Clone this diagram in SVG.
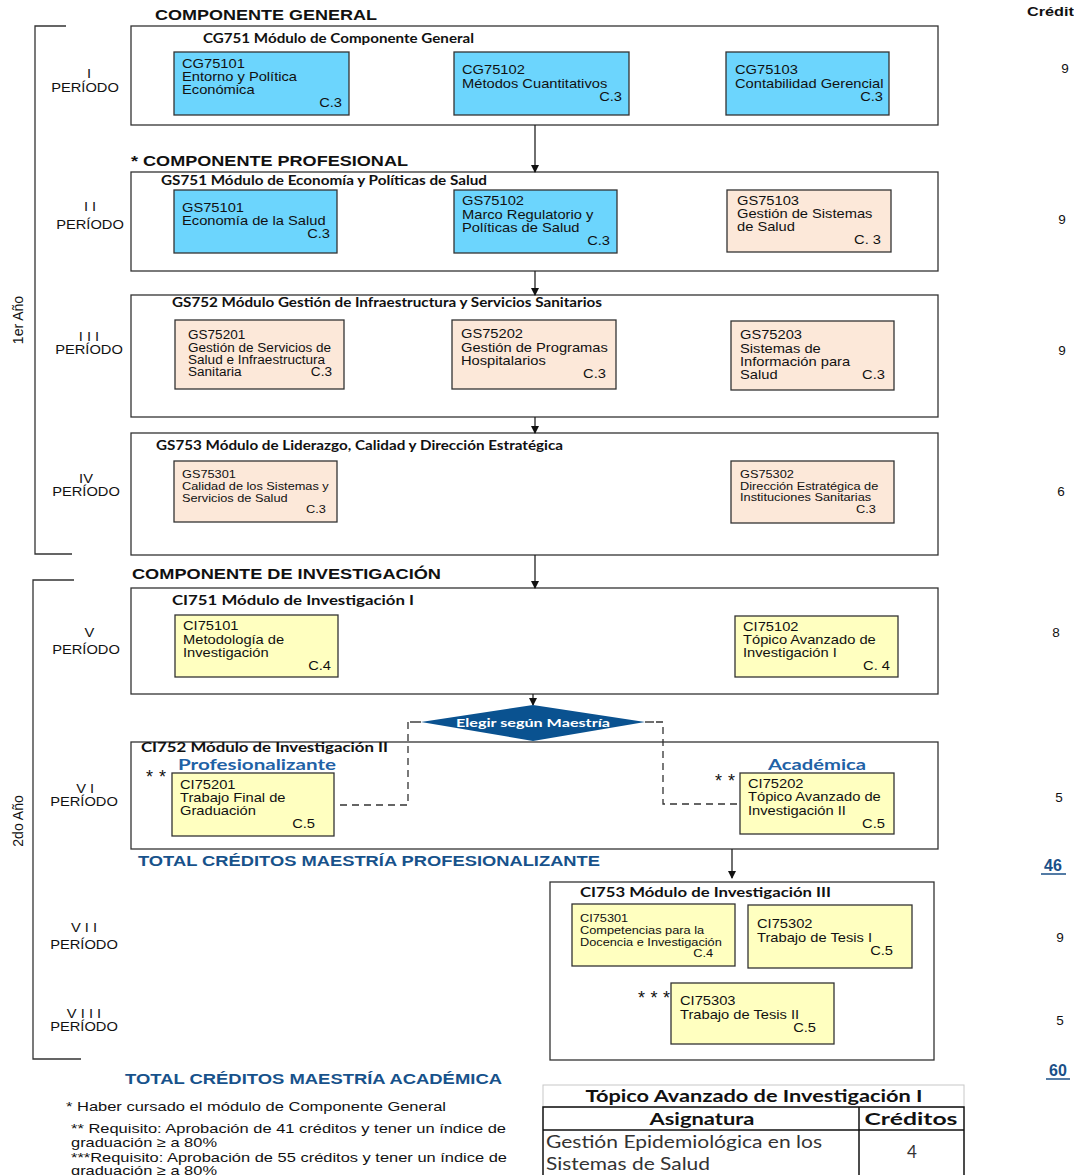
<svg xmlns="http://www.w3.org/2000/svg" width="1074" height="1175" viewBox="0 0 1074 1175">
<style>
.bg{fill:#fff}
.mod{fill:#fff;stroke:#333;stroke-width:1.3}
.cy{fill:#6CD5FD;stroke:#333;stroke-width:1.3}
.pe{fill:#FCE8D9;stroke:#333;stroke-width:1.3}
.ye{fill:#FFFFC0;stroke:#333;stroke-width:1.3}
.t text{font-family:"Liberation Sans",Arial,sans-serif;font-size:13px;fill:#111}
.t12 text{font-size:12px}
.t11 text{font-size:11px}
.e{text-anchor:end}
.m{text-anchor:middle}
.hd{font-family:"Liberation Sans",Arial,sans-serif;font-weight:bold;font-size:15px;fill:#111}
.ti{font-family:Lato,"Noto Sans",sans-serif;font-weight:bold;font-size:13px;fill:#111}
.tot{font-family:"Liberation Sans",Arial,sans-serif;font-weight:bold;font-size:14px;fill:#17528B}
.bl{font-family:Lato,"Noto Sans",sans-serif;font-weight:bold;font-size:15.5px;fill:#1F62A6}
.cr{font-family:"Liberation Sans",Arial,sans-serif;font-size:13.5px;fill:#111;text-anchor:middle}
.crb{font-family:"Liberation Sans",Arial,sans-serif;font-size:16px;font-weight:bold;fill:#1A4F87;text-anchor:middle}
.fn{font-family:"Liberation Sans",Arial,sans-serif;font-size:13.5px;fill:#111}
.st{font-family:"Liberation Sans",Arial,sans-serif;font-size:18px;fill:#111}
.tb{font-family:Lato,"Noto Sans",sans-serif;font-size:17px;fill:#333}
.tbb{font-family:Lato,"Noto Sans",sans-serif;font-size:17px;font-weight:bold;fill:#111}
.ln{stroke:#222;stroke-width:1.3;fill:none}
.dash{stroke:#333;stroke-width:1.3;fill:none;stroke-dasharray:7 5}
.br{stroke:#333;stroke-width:1.3;fill:none}
</style>
<defs>
<marker id="arr" markerWidth="8" markerHeight="8" refX="7" refY="4" orient="auto" markerUnits="userSpaceOnUse">
<path d="M0,0 L8,4 L0,8 Z" fill="#111"/>
</marker>
</defs>
<rect class="bg" x="0" y="0" width="1074" height="1175"/>

<!-- headings -->
<text class="hd" x="155" y="20" textLength="222" lengthAdjust="spacingAndGlyphs">COMPONENTE GENERAL</text>
<text class="hd" x="131" y="166" textLength="277" lengthAdjust="spacingAndGlyphs">* COMPONENTE PROFESIONAL</text>
<text class="hd" x="132" y="579" textLength="309" lengthAdjust="spacingAndGlyphs">COMPONENTE DE INVESTIGACIÓN</text>
<text class="hd" x="1027" y="16" style="font-size:12.5px" textLength="47" lengthAdjust="spacingAndGlyphs">Crédit</text>

<!-- year brackets -->
<g id="year1">
<path class="br" d="M66,26 H35 V554 H72"/>
<text transform="translate(23 320) rotate(-90)" style="font-family:'Liberation Sans',Arial,sans-serif;font-size:14px;fill:#111;text-anchor:middle">1er  Año</text>
</g>
<g id="year2">
<path class="br" d="M74,580 H33 V1059 H81"/>
<text transform="translate(23 821) rotate(-90)" style="font-family:'Liberation Sans',Arial,sans-serif;font-size:14px;fill:#111;text-anchor:middle">2do  Año</text>
</g>

<!-- period labels -->
<g id="periods" class="t">
<g transform="translate(89 0) scale(1.13 1)"><text class="m" x="0" y="78">I</text></g>
<g transform="translate(85 0) scale(1.13 1)"><text class="m" x="0" y="92">PERÍODO</text></g>
<g transform="translate(90 0) scale(1.13 1)"><text class="m" x="0" y="211">I I</text><text class="m" x="0" y="229">PERÍODO</text></g>
<g transform="translate(89 0) scale(1.13 1)"><text class="m" x="0" y="341">I I I</text><text class="m" x="0" y="354">PERÍODO</text></g>
<g transform="translate(86 0) scale(1.13 1)"><text class="m" x="0" y="483">IV</text><text class="m" x="0" y="496">PERÍODO</text></g>
<g transform="translate(86 0) scale(1.13 1)"><text class="m" x="3" y="637">V</text><text class="m" x="0" y="654">PERÍODO</text></g>
<g transform="translate(84 0) scale(1.13 1)"><text class="m" x="1" y="793">V I</text><text class="m" x="0" y="806">PERÍODO</text></g>
<g transform="translate(84 0) scale(1.13 1)"><text class="m" x="0" y="932">V I I</text><text class="m" x="0" y="949">PERÍODO</text></g>
<g transform="translate(84 0) scale(1.13 1)"><text class="m" x="0" y="1018">V I I I</text><text class="m" x="0" y="1031">PERÍODO</text></g>
</g>

<!-- credits -->
<g id="credits">
<text class="cr" x="1065" y="73">9</text>
<text class="cr" x="1062" y="224">9</text>
<text class="cr" x="1062" y="355">9</text>
<text class="cr" x="1061" y="496">6</text>
<text class="cr" x="1056" y="637">8</text>
<text class="cr" x="1059" y="802">5</text>
<text class="crb" x="1053" y="871">46</text>
<line x1="1041" y1="874" x2="1066" y2="874" stroke="#1A4F87" stroke-width="1.5"/>
<text class="cr" x="1060" y="942">9</text>
<text class="cr" x="1060" y="1025">5</text>
<text class="crb" x="1058" y="1076">60</text>
<line x1="1046" y1="1079" x2="1070" y2="1079" stroke="#1A4F87" stroke-width="1.5"/>
</g>

<!-- CG751 -->
<g id="CG751">
<rect class="mod" x="131" y="26" width="807" height="99"/>
<text class="ti" x="203" y="43" textLength="271" lengthAdjust="spacingAndGlyphs">CG751 Módulo de Componente General</text>
</g>
<g id="CG75101">
<rect class="cy" x="174" y="52" width="175" height="63"/>
<g class="t" transform="translate(182 0) scale(1.13 1)"><text x="0" y="68">CG75101</text><text x="0" y="81">Entorno y Política</text><text x="0" y="94">Económica</text><text class="e" x="141.6" y="107">C.3</text></g>
</g>
<g id="CG75102">
<rect class="cy" x="454" y="52" width="175" height="63"/>
<g class="t" transform="translate(462 0) scale(1.13 1)"><text x="0" y="74">CG75102</text><text x="0" y="88">Métodos Cuantitativos</text><text class="e" x="141.6" y="101">C.3</text></g>
</g>
<g id="CG75103">
<rect class="cy" x="726" y="52" width="163" height="63"/>
<g class="t" transform="translate(735 0) scale(1.13 1)"><text x="0" y="74">CG75103</text><text x="0" y="88">Contabilidad Gerencial</text><text class="e" x="131" y="101">C.3</text></g>
</g>

<!-- GS751 -->
<g id="GS751">
<rect class="mod" x="131" y="172" width="807" height="99"/>
<text class="ti" x="161" y="185" textLength="326" lengthAdjust="spacingAndGlyphs">GS751 Módulo de Economía y Políticas de Salud</text>
</g>
<g id="GS75101">
<rect class="cy" x="174" y="190" width="163" height="63"/>
<g class="t" transform="translate(182 0) scale(1.13 1)"><text x="0" y="212">GS75101</text><text x="0" y="225">Economía de la Salud</text><text class="e" x="131" y="238">C.3</text></g>
</g>
<g id="GS75102">
<rect class="cy" x="454" y="190" width="163" height="63"/>
<g class="t" transform="translate(462 0) scale(1.13 1)"><text x="0" y="205">GS75102</text><text x="0" y="219">Marco Regulatorio y</text><text x="0" y="232">Políticas de Salud</text><text class="e" x="131" y="245">C.3</text></g>
</g>
<g id="GS75103">
<rect class="pe" x="727" y="190" width="164" height="62"/>
<g class="t" transform="translate(737 0) scale(1.13 1)"><text x="0" y="205">GS75103</text><text x="0" y="218">Gestión de Sistemas</text><text x="0" y="231">de Salud</text><text class="e" x="127.4" y="244">C. 3</text></g>
</g>

<!-- GS752 -->
<g id="GS752">
<rect class="mod" x="131" y="295" width="807" height="122"/>
<text class="ti" x="172" y="307" textLength="430" lengthAdjust="spacingAndGlyphs">GS752 Módulo Gestión de Infraestructura y Servicios Sanitarios</text>
</g>
<g id="GS75201">
<rect class="pe" x="175" y="320" width="169" height="69"/>
<g class="t t12" transform="translate(188 0) scale(1.13 1)"><text x="0" y="339">GS75201</text><text x="0" y="352">Gestión de Servicios de</text><text x="0" y="364">Salud e Infraestructura</text><text x="0" y="376">Sanitaria</text><text class="e" x="127.4" y="376">C.3</text></g>
</g>
<g id="GS75202">
<rect class="pe" x="452" y="320" width="164" height="69"/>
<g class="t" transform="translate(461 0) scale(1.13 1)"><text x="0" y="338">GS75202</text><text x="0" y="352">Gestión de Programas</text><text x="0" y="365">Hospitalarios</text><text class="e" x="128.3" y="378">C.3</text></g>
</g>
<g id="GS75203">
<rect class="pe" x="731" y="321" width="163" height="69"/>
<g class="t" transform="translate(740 0) scale(1.13 1)"><text x="0" y="339">GS75203</text><text x="0" y="353">Sistemas de</text><text x="0" y="366">Información para</text><text x="0" y="379">Salud</text><text class="e" x="128.3" y="379">C.3</text></g>
</g>

<!-- GS753 -->
<g id="GS753">
<rect class="mod" x="131" y="433" width="807" height="122"/>
<text class="ti" x="156" y="450" textLength="407" lengthAdjust="spacingAndGlyphs">GS753 Módulo de Liderazgo, Calidad y Dirección Estratégica</text>
</g>
<g id="GS75301">
<rect class="pe" x="174" y="461" width="163" height="61"/>
<g class="t t11" transform="translate(182 0) scale(1.16 1)"><text x="0" y="478">GS75301</text><text x="0" y="490">Calidad de los Sistemas y</text><text x="0" y="502">Servicios de Salud</text><text class="e" x="124.1" y="513">C.3</text></g>
</g>
<g id="GS75302">
<rect class="pe" x="731" y="461" width="163" height="62"/>
<g class="t t11" transform="translate(740 0) scale(1.16 1)"><text x="0" y="478">GS75302</text><text x="0" y="490">Dirección Estratégica de</text><text x="0" y="501">Instituciones Sanitarias</text><text class="e" x="117.2" y="513">C.3</text></g>
</g>

<!-- CI751 -->
<g id="CI751">
<rect class="mod" x="131" y="588" width="807" height="106"/>
<text class="ti" x="172" y="605" textLength="242" lengthAdjust="spacingAndGlyphs">CI751 Módulo de Investigación I</text>
</g>
<g id="CI75101">
<rect class="ye" x="175" y="615" width="163" height="62"/>
<g class="t" transform="translate(183 0) scale(1.13 1)"><text x="0" y="630">CI75101</text><text x="0" y="644">Metodología de</text><text x="0" y="657">Investigación</text><text class="e" x="131" y="670">C.4</text></g>
</g>
<g id="CI75102">
<rect class="ye" x="735" y="616" width="163" height="61"/>
<g class="t" transform="translate(743 0) scale(1.13 1)"><text x="0" y="631">CI75102</text><text x="0" y="644">Tópico Avanzado de</text><text x="0" y="657">Investigación I</text><text class="e" x="130.1" y="670">C. 4</text></g>
</g>

<!-- CI752 -->
<g id="CI752">
<rect class="mod" x="131" y="742" width="807" height="107"/>
<text class="ti" x="141" y="752" textLength="247" lengthAdjust="spacingAndGlyphs">CI752 Módulo de Investigación II</text>
<text class="bl" x="178" y="770" textLength="158" lengthAdjust="spacingAndGlyphs">Profesionalizante</text>
<text class="bl" x="768" y="770" textLength="98" lengthAdjust="spacingAndGlyphs">Académica</text>
<text class="st" x="146" y="783" textLength="20" lengthAdjust="spacing">**</text>
<text class="st" x="715" y="787" textLength="20" lengthAdjust="spacing">**</text>
</g>
<g id="CI75201">
<rect class="ye" x="172" y="773" width="162" height="63"/>
<g class="t" transform="translate(180 0) scale(1.13 1)"><text x="0" y="789">CI75201</text><text x="0" y="802">Trabajo Final de</text><text x="0" y="815">Graduación</text><text class="e" x="119.5" y="828">C.5</text></g>
</g>
<g id="CI75202">
<rect class="ye" x="740" y="773" width="154" height="61"/>
<g class="t" transform="translate(748 0) scale(1.13 1)"><text x="0" y="788">CI75202</text><text x="0" y="801">Tópico Avanzado de</text><text x="0" y="815">Investigación II</text><text class="e" x="121.2" y="828">C.5</text></g>
</g>

<text class="tot" x="138" y="866" textLength="462" lengthAdjust="spacingAndGlyphs">TOTAL CRÉDITOS MAESTRÍA PROFESIONALIZANTE</text>

<!-- CI753 -->
<g id="CI753">
<rect class="mod" x="550" y="882" width="384" height="178"/>
<text class="ti" x="580" y="897" textLength="251" lengthAdjust="spacingAndGlyphs">CI753 Módulo de Investigación III</text>
<text class="st" x="638" y="1004" textLength="32" lengthAdjust="spacing">***</text>
</g>
<g id="CI75301">
<rect class="ye" x="572" y="904" width="163" height="62"/>
<g class="t t11" transform="translate(580 0) scale(1.16 1)"><text x="0" y="922">CI75301</text><text x="0" y="934">Competencias para la</text><text x="0" y="946">Docencia e Investigación</text><text class="e" x="114.7" y="957">C.4</text></g>
</g>
<g id="CI75302">
<rect class="ye" x="748" y="905" width="164" height="63"/>
<g class="t" transform="translate(757 0) scale(1.13 1)"><text x="0" y="928">CI75302</text><text x="0" y="942">Trabajo de Tesis I</text><text class="e" x="120.4" y="955">C.5</text></g>
</g>
<g id="CI75303">
<rect class="ye" x="671" y="983" width="163" height="61"/>
<g class="t" transform="translate(680 0) scale(1.13 1)"><text x="0" y="1005">CI75303</text><text x="0" y="1019">Trabajo de Tesis II</text><text class="e" x="120.4" y="1032">C.5</text></g>
</g>

<text class="tot" x="125" y="1084" textLength="377" lengthAdjust="spacingAndGlyphs">TOTAL CRÉDITOS MAESTRÍA ACADÉMICA</text>

<!-- footnotes -->
<g id="footnotes">
<text class="fn" x="66" y="1111" textLength="380" lengthAdjust="spacingAndGlyphs">* Haber cursado el módulo de Componente General</text>
<text class="fn" x="71" y="1133" textLength="435" lengthAdjust="spacingAndGlyphs">** Requisito: Aprobación de 41 créditos y tener un índice de</text>
<text class="fn" x="71" y="1147" textLength="146" lengthAdjust="spacingAndGlyphs">graduación ≥ a 80%</text>
<text class="fn" x="71" y="1162" textLength="436" lengthAdjust="spacingAndGlyphs">***Requisito: Aprobación de 55 créditos y tener un índice de</text>
<text class="fn" x="71" y="1175" textLength="146" lengthAdjust="spacingAndGlyphs">graduación ≥ a 80%</text>
</g>

<!-- table -->
<g id="table">
<rect x="543" y="1085" width="421" height="22" fill="#fff" stroke="#C8C8C8" stroke-width="1"/>
<rect x="543" y="1107" width="421" height="70" fill="none" stroke="#111" stroke-width="1.5"/>
<line x1="543" y1="1130" x2="964" y2="1130" stroke="#111" stroke-width="1.5"/>
<line x1="859" y1="1107" x2="859" y2="1177" stroke="#111" stroke-width="1.5"/>
<text class="tbb" x="754" y="1102" text-anchor="middle" textLength="337" lengthAdjust="spacingAndGlyphs">Tópico Avanzado de Investigación I</text>
<text class="tbb" x="702" y="1125" text-anchor="middle" textLength="105" lengthAdjust="spacingAndGlyphs">Asignatura</text>
<text class="tbb" x="911" y="1125" text-anchor="middle" textLength="93" lengthAdjust="spacingAndGlyphs">Créditos</text>
<text class="tb" x="546" y="1148" textLength="276" lengthAdjust="spacingAndGlyphs">Gestión Epidemiológica en los</text>
<text class="tb" x="546" y="1170" textLength="164" lengthAdjust="spacingAndGlyphs">Sistemas de Salud</text>
<text class="tb" x="912" y="1158" text-anchor="middle">4</text>
</g>

<!-- connectors (drawn last so they stay visible over module boxes) -->
<g id="connectors">
<line class="ln" x1="535" y1="125" x2="535" y2="172" marker-end="url(#arr)"/>
<line class="ln" x1="535" y1="271" x2="535" y2="295" marker-end="url(#arr)"/>
<line class="ln" x1="535" y1="417" x2="535" y2="433" marker-end="url(#arr)"/>
<line class="ln" x1="535" y1="555" x2="535" y2="588" marker-end="url(#arr)"/>
<line class="ln" x1="533" y1="694" x2="533" y2="705" marker-end="url(#arr)"/>
<line class="ln" x1="732" y1="849" x2="732" y2="878" marker-end="url(#arr)"/>
<line class="ln" x1="421" y1="722" x2="410" y2="722"/>
<path class="dash" d="M408,722 V805 H340"/>
<line class="ln" x1="645" y1="722" x2="654" y2="722"/>
<path class="dash" d="M656,722 H663 V804 H740"/>
</g>

<!-- decision -->
<g id="decision">
<polygon points="421,722 533,705 645,722 533,741" fill="#0A5290"/>
<text x="533" y="727" style="font-family:Lato,'Noto Sans',sans-serif;font-weight:bold;font-size:12px;fill:#fff;text-anchor:middle" textLength="154" lengthAdjust="spacingAndGlyphs">Elegir según Maestría</text>
</g>
</svg>
